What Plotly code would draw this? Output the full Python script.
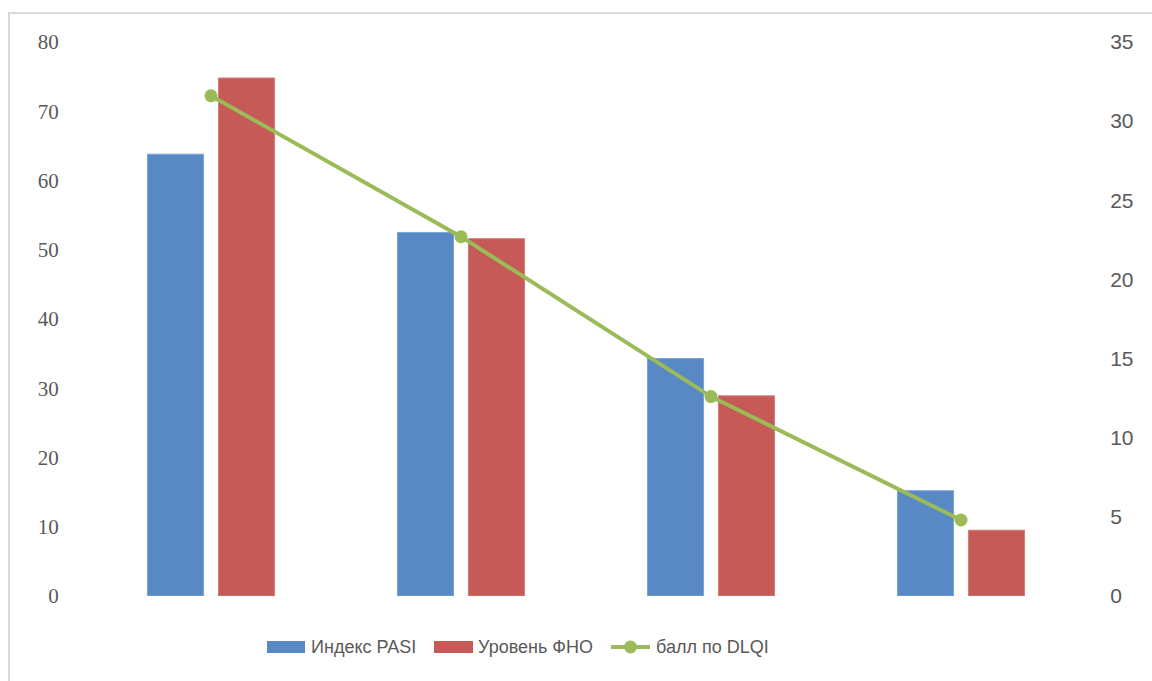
import plotly.graph_objects as go

# Groups along the x axis (unlabelled in the chart)
categories = ["1", "2", "3", "4"]

# Series values
pasi_index = [63.8, 52.5, 34.3, 15.2]   # left axis
tnf_level = [74.8, 51.6, 28.9, 9.5]      # left axis
dlqi_score = [31.6, 22.7, 12.6, 4.8]     # right axis

# Series names
series_names = ["Индекс PASI", "Уровень ФНО", "балл по DLQI"]

# Axis ticks
left_ticks = [0, 10, 20, 30, 40, 50, 60, 70, 80]
right_ticks = [0, 5, 10, 15, 20, 25, 30, 35]

BLUE = "#5889C4"
RED = "#C55A56"
GREEN = "#9BBB59"
TEXT = "#595959"

W, H = 1152, 681
ML, MR, MT, MB = 86, 66, 42, 85
PW, PH = W - ML - MR, H - MT - MB


def px_x(px):
    return (px - ML) / PW


def px_y(py):
    return (H - MB - py) / PH


fig = go.Figure()

fig.add_trace(go.Bar(
    x=categories, y=pasi_index, name=series_names[0],
    marker=dict(color=BLUE, line=dict(color="#7AA3D4", width=1)),
))
fig.add_trace(go.Bar(
    x=categories, y=tnf_level, name=series_names[1],
    marker=dict(color=RED, line=dict(color="#D37C79", width=1)),
))
fig.add_trace(go.Scatter(
    x=categories, y=dlqi_score, name=series_names[2], yaxis="y2",
    mode="lines+markers",
    line=dict(color=GREEN, width=4),
    marker=dict(color=GREEN, size=13),
))

# Legend below the plot: wide swatches for the bars, line+dot for the line series
legend_y = 647
shapes = [
    # outer frame of the chart area
    dict(type="rect", xref="paper", yref="paper",
         x0=px_x(9), x1=px_x(1165), y0=px_y(695), y1=px_y(13),
         line=dict(color="#D9D9D9", width=2), fillcolor="rgba(0,0,0,0)", layer="below"),
    dict(type="rect", xref="paper", yref="paper",
         x0=px_x(267), x1=px_x(305), y0=px_y(legend_y + 6), y1=px_y(legend_y - 6),
         line=dict(width=0), fillcolor=BLUE),
    dict(type="rect", xref="paper", yref="paper",
         x0=px_x(434), x1=px_x(473), y0=px_y(legend_y + 6), y1=px_y(legend_y - 6),
         line=dict(width=0), fillcolor=RED),
    dict(type="line", xref="paper", yref="paper",
         x0=px_x(611), x1=px_x(650), y0=px_y(legend_y), y1=px_y(legend_y),
         line=dict(color=GREEN, width=4)),
    dict(type="circle", xref="paper", yref="paper",
         x0=px_x(624), x1=px_x(637), y0=px_y(legend_y + 6.5), y1=px_y(legend_y - 6.5),
         line=dict(width=0), fillcolor=GREEN),
]
legend_font = dict(family="Liberation Sans, Arial, sans-serif", size=18, color=TEXT)
annotations = [
    dict(text=name, xref="paper", yref="paper", x=px_x(xp), y=px_y(legend_y),
         xanchor="left", yanchor="middle", showarrow=False, font=legend_font)
    for name, xp in zip(series_names, [309, 476, 654])
]

fig.update_layout(
    width=W, height=H,
    margin=dict(l=ML, r=MR, t=MT, b=MB),
    paper_bgcolor="white", plot_bgcolor="white",
    barmode="group", bargap=0.432, bargroupgap=0.21,
    showlegend=False,
    xaxis=dict(
        type="category", showticklabels=False, showgrid=False, zeroline=False,
        showline=False, ticks="",
    ),
    yaxis=dict(
        range=[0, 80], tickvals=left_ticks, showgrid=False, zeroline=False, showline=False,
        ticks="outside", ticklen=22, tickcolor="rgba(0,0,0,0)",
        tickfont=dict(family="Liberation Serif, serif", size=21, color=TEXT),
    ),
    yaxis2=dict(
        range=[0, 35], tickvals=right_ticks, overlaying="y", side="right",
        showgrid=False, zeroline=False, showline=False,
        ticks="outside", ticklen=19, tickcolor="rgba(0,0,0,0)",
        tickfont=dict(family="Liberation Sans, Arial, sans-serif", size=21, color=TEXT),
    ),
    shapes=shapes,
    annotations=annotations,
)

fig.write_html("out.html")
